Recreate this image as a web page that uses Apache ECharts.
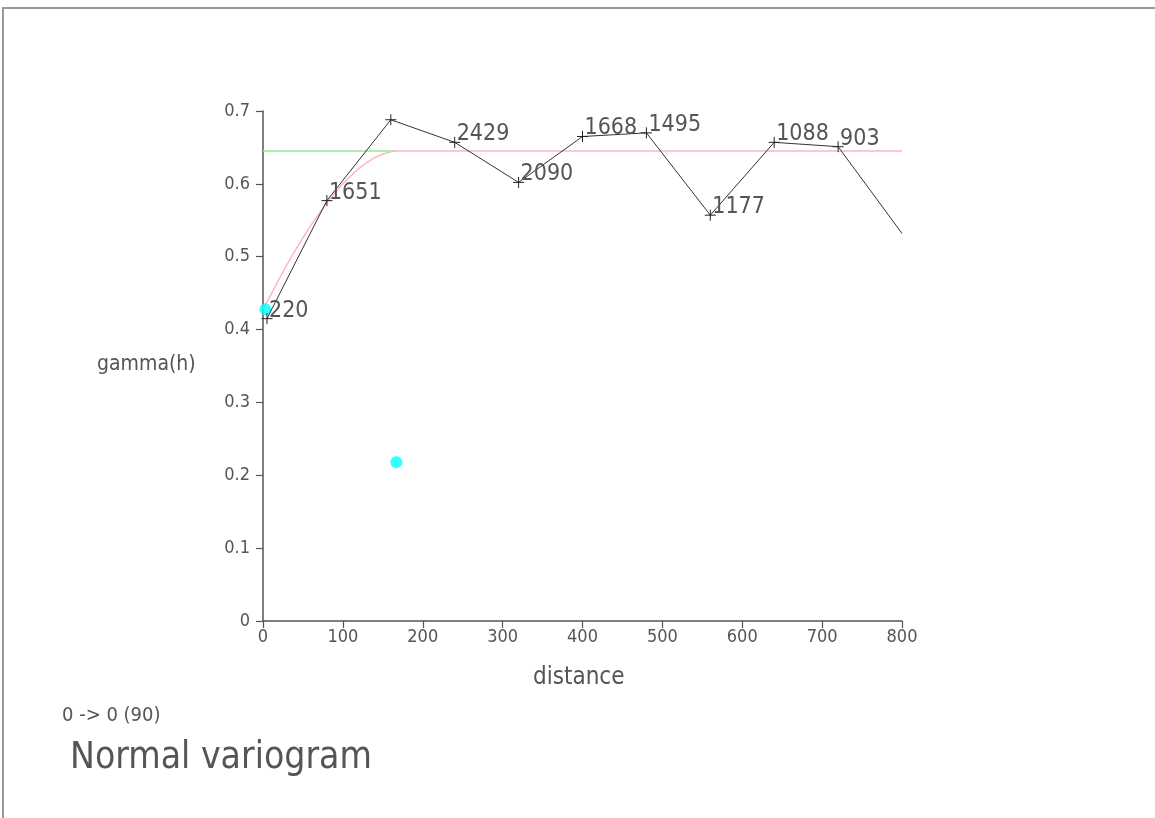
<!DOCTYPE html>
<html>
<head>
<meta charset="utf-8">
<script src="https://cdn.jsdelivr.net/npm/echarts@6/dist/echarts.min.js"></script>
<style>
  html, body { margin: 0; padding: 0; background: #fff; }
  #chart { width: 1155px; height: 818px; }
  #frame { position: absolute; left: 2px; top: 7px; width: 1153px; height: 811px;
           border-top: 2px solid #999; border-left: 2px solid #999; pointer-events: none; }
</style>
</head>
<body>
<div id="chart"></div>
<div id="frame"></div>
<script>
// Experimental variogram (black line with + markers)
const distances   = [5, 80, 160, 240, 320, 400, 480, 560, 640, 720, 800];
const gammaValues = [0.415, 0.577, 0.688, 0.657, 0.602, 0.665, 0.670, 0.557, 0.657, 0.651, 0.532];
const pairCounts  = ['220', '1651', '', '2429', '2090', '1668', '1495', '1177', '1088', '903', ''];

// Fitted model curve (pink)
const modelDist  = [0, 10, 20, 30, 40, 50, 60, 70, 80, 90, 100, 110, 120, 130, 140, 150, 160, 167, 800];
const modelGamma = [0.428, 0.448, 0.469, 0.489, 0.508, 0.526, 0.543, 0.559, 0.574, 0.588, 0.600, 0.611, 0.621, 0.629, 0.636, 0.641, 0.644, 0.645, 0.645];

// Sill line (green)
const sillDist  = [0, 165];
const sillGamma = [0.645, 0.645];

// Cyan points
const cyanDist  = [3, 167];
const cyanGamma = [0.428, 0.218];

const xTicks = { min: 0, max: 800, interval: 100 };
const yTicks = { min: 0, max: 0.7, interval: 0.1 };

const FONT = "'DejaVu Sans Condensed', 'Liberation Sans Narrow', 'Roboto', sans-serif";
const TXT = '#555';

const zip = (a, b) => a.map((v, i) => [v, b[i]]);

const chart = echarts.init(document.getElementById('chart'), null, { renderer: 'canvas' });
chart.setOption({
  backgroundColor: '#fff',
  animation: false,
  grid: { left: 263, right: 253, top: 111, bottom: 197, containLabel: false },
  xAxis: {
    type: 'value', min: xTicks.min, max: xTicks.max, interval: xTicks.interval,
    axisLine: { show: true, lineStyle: { color: '#555', width: 1.5 } },
    axisTick: { show: true, length: 7, lineStyle: { color: '#555', width: 1.2 } },
    axisLabel: { color: TXT, fontFamily: FONT, fontSize: 18, margin: 7 },
    splitLine: { show: false }
  },
  yAxis: {
    type: 'value', min: yTicks.min, max: yTicks.max, interval: yTicks.interval,
    axisLine: { show: true, lineStyle: { color: '#555', width: 1.5 } },
    axisTick: { show: true, length: 7, lineStyle: { color: '#555', width: 1.2 } },
    axisLabel: { color: TXT, fontFamily: FONT, fontSize: 18, margin: 13 },
    splitLine: { show: false }
  },
  graphic: [
    { type: 'text', left: 533, top: 666, style: { text: 'distance', fill: TXT, font: '24px ' + FONT } },
    { type: 'text', left: 97, top: 354, style: { text: 'gamma(h)', fill: TXT, font: '21px ' + FONT } },
    { type: 'text', left: 62, top: 706, style: { text: '0 -> 0 (90)', fill: TXT, font: '20px ' + FONT } },
    { type: 'text', left: 70, top: 740, style: { text: 'Normal variogram', fill: TXT, font: '37px ' + FONT } }
  ],
  series: [
    {
      type: 'line', data: zip(sillDist, sillGamma), symbol: 'none', z: 2,
      lineStyle: { color: '#90ee90', width: 1.5 }
    },
    {
      type: 'line', data: zip(modelDist, modelGamma), symbol: 'none', z: 3,
      lineStyle: { color: '#ffb6c1', width: 1.5 }
    },
    {
      type: 'scatter', data: zip(cyanDist, cyanGamma), symbol: 'circle', symbolSize: 12, z: 4,
      itemStyle: { color: '#00ffff' }
    },
    {
      type: 'line', z: 5, clip: true,
      data: distances.map((d, i) => ({
        value: [d, gammaValues[i]],
        symbol: pairCounts[i] === '' && i === distances.length - 1 ? 'none' : 'path://M0,5L10,5M5,0L5,10',
        label: { show: pairCounts[i] !== '', formatter: pairCounts[i] }
      })),
      symbolSize: 11,
      itemStyle: { color: 'none', borderColor: '#222', borderWidth: 1 },
      lineStyle: { color: '#333', width: 1 },
      label: {
        position: [10, 0], align: 'left', verticalAlign: 'middle',
        color: TXT, fontFamily: FONT, fontSize: 23
      }
    }
  ]
});
</script>
</body>
</html>
